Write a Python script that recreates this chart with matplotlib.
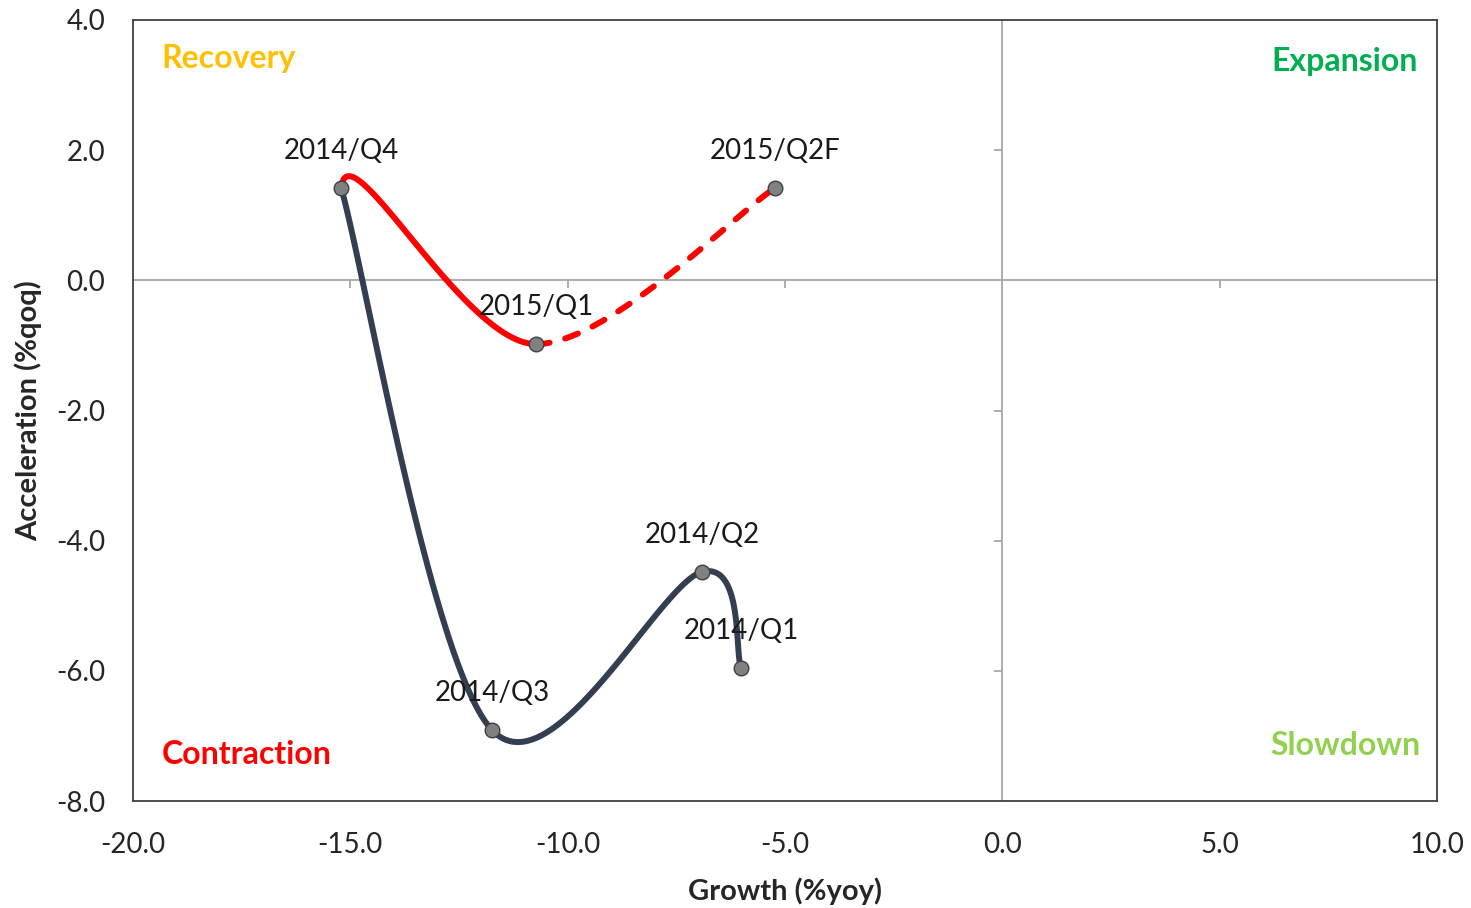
import numpy as np
import matplotlib
matplotlib.use('Agg')
import matplotlib.pyplot as plt

plt.rcParams['font.family'] = ['Lato', 'DejaVu Sans']

# data
quarters = ['2014/Q1', '2014/Q2', '2014/Q3', '2014/Q4', '2015/Q1', '2015/Q2F']
growth = [-6.01, -6.91, -11.74, -15.21, -10.73, -5.23]        # %yoy
acceleration = [-5.96, -4.48, -6.91, 1.42, -0.98, 1.42]        # %qoq

x_ticks = [-20.0, -15.0, -10.0, -5.0, 0.0, 5.0, 10.0]
y_ticks = [-8.0, -6.0, -4.0, -2.0, 0.0, 2.0, 4.0]

DARK = '#333f50'
RED = '#ff0000'


def smooth_segment(pts, i, n=80):
    """Excel-like smoothed segment between pts[i] and pts[i+1] (cubic bezier)."""
    p0 = pts[max(i - 1, 0)]
    p1 = pts[i]
    p2 = pts[i + 1]
    p3 = pts[min(i + 2, len(pts) - 1)]
    b1 = p1 + (p2 - p0) / 6.0
    b2 = p2 - (p3 - p1) / 6.0
    t = np.linspace(0, 1, n)[:, None]
    curve = (1 - t) ** 3 * p1 + 3 * (1 - t) ** 2 * t * b1 + 3 * (1 - t) * t ** 2 * b2 + t ** 3 * p2
    return curve[:, 0], curve[:, 1]


pts = np.column_stack([growth, acceleration])
dark_pts = pts[0:4]   # 2014 path
red_pts = pts[2:6]    # 2014/Q3 only shapes the curve, not drawn

fig = plt.figure(figsize=(14.71, 9.08), dpi=100)
ax = fig.add_axes([133 / 1471, 107 / 908, 1304 / 1471, 781 / 908])

# quadrant cross lines
ax.axhline(0, color='#a6a6a6', lw=1.3, zorder=1)
ax.axvline(0, color='#a6a6a6', lw=1.3, zorder=1)
ax.plot([t for t in x_ticks if t not in (-20.0, 0.0, 10.0)], [0] * 4, ls='none',
        marker=3, ms=6, mew=1.3, color='#a6a6a6', zorder=1)
ax.plot([0] * 4, [t for t in y_ticks if t not in (-8.0, 0.0, 4.0)], ls='none',
        marker=0, ms=6, mew=1.3, color='#a6a6a6', zorder=1)

# 2014 path
for i in range(len(dark_pts) - 1):
    sx, sy = smooth_segment(dark_pts, i)
    ax.plot(sx, sy, color=DARK, lw=4.3, solid_capstyle='round', zorder=3)

# 2014/Q4 -> 2015/Q1 actual, 2015/Q1 -> 2015/Q2F forecast
sx, sy = smooth_segment(red_pts, 1)
ax.plot(sx, sy, color=RED, lw=4.3, solid_capstyle='round', zorder=4)
sx, sy = smooth_segment(red_pts, 2)
ax.plot(sx, sy, color=RED, lw=4.3, ls=(0, (2.3, 2.7)), dash_capstyle='round', zorder=4)

ax.plot(growth, acceleration, ls='none', marker='o', ms=10.5, mfc='#808080',
        mec='#404040', mew=1, zorder=5)

for q, gx, gy in zip(quarters, growth, acceleration):
    ax.annotate(q, (gx, gy), xytext=(0, 26.5), textcoords='offset points',
                ha='center', va='center', fontsize=20, color='#1a1a1a', zorder=6)

# quadrant names
ax.text(0.022, 0.951, 'Recovery', transform=ax.transAxes, color='#ffc000',
        fontsize=23, fontweight='bold', ha='left', va='center')
ax.text(0.985, 0.9475, 'Expansion', transform=ax.transAxes, color='#00b050',
        fontsize=23, fontweight='bold', ha='right', va='center')
ax.text(0.022, 0.059, 'Contraction', transform=ax.transAxes, color='#ff0000',
        fontsize=23, fontweight='bold', ha='left', va='center')
ax.text(0.987, 0.0717, 'Slowdown', transform=ax.transAxes, color='#92d050',
        fontsize=23, fontweight='bold', ha='right', va='center')

ax.set_xlim(-20, 10)
ax.set_ylim(-8, 4)
ax.set_xticks(x_ticks)
ax.set_yticks(y_ticks)
ax.set_xticklabels([f'{v:.1f}' for v in x_ticks])
ax.set_yticklabels([f'{v:.1f}' for v in y_ticks])
ax.tick_params(axis='both', length=0, labelsize=20, colors='#262626')
ax.tick_params(axis='x', pad=22)
ax.tick_params(axis='y', pad=20)

for s in ax.spines.values():
    s.set_color('#404040')
    s.set_linewidth(1.3)

ax.set_xlabel('Growth (%yoy)', fontsize=21, fontweight='bold', color='#262626', labelpad=14)
ax.set_ylabel('Acceleration (%qoq)', fontsize=21, fontweight='bold', color='#262626', labelpad=10)

fig.savefig('out.png', dpi=100)
